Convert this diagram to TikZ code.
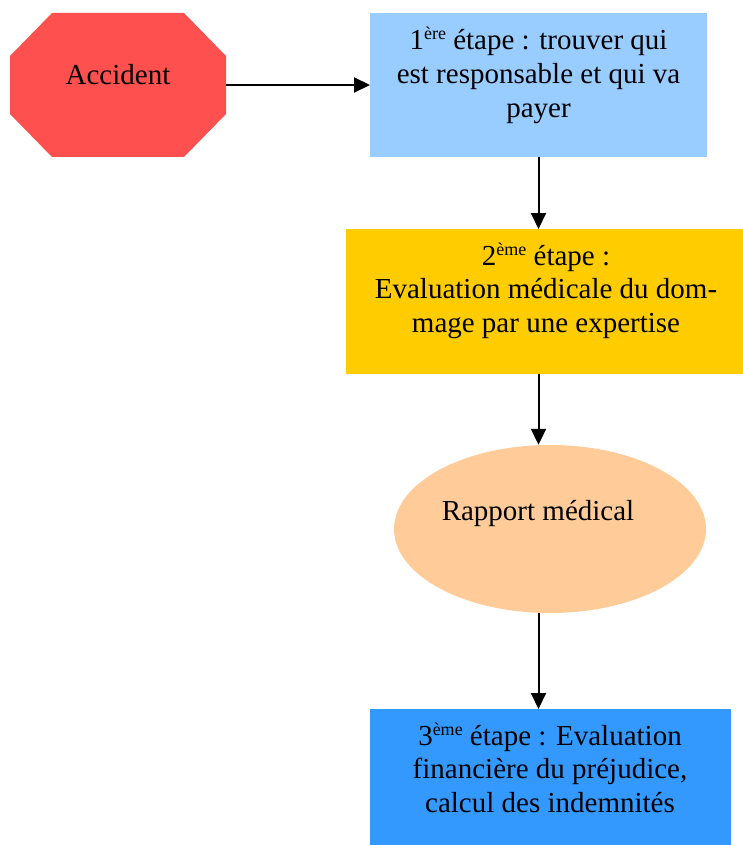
\documentclass[tikz,border=0pt]{standalone}
\usepackage{fontspec}
\setmainfont{Liberation Serif}
\usetikzlibrary{arrows.meta,shapes.geometric,calc}
\definecolor{accred}{RGB}{255,80,80}
\definecolor{stepone}{RGB}{153,204,255}
\definecolor{steptwo}{RGB}{255,204,0}
\definecolor{rapcol}{RGB}{255,204,153}
\definecolor{stepthree}{RGB}{51,153,255}
\newcommand\expo[1]{\raisebox{10pt}{\fontsize{18}{18}\selectfont #1}}
\newcommand\lines[1]{\setlength{\tabcolsep}{0pt}\begin{tabular}[t]{c}#1\end{tabular}}
\tikzset{
  shapebox/.style={rectangle, inner sep=0pt, outer sep=0pt},
  label text/.style={anchor=base, inner sep=0pt, font=\fontsize{29}{33.8}\selectfont},
  conn/.style={line width=2pt, -{Triangle[length=16pt,width=15pt]}},
}
\begin{document}
\begin{tikzpicture}[x=1pt,y=-1pt]
\useasboundingbox (0,0) rectangle (743,845);
% shapes
\node[shapebox, minimum width=216pt, minimum height=144pt] (acc) at (118,85) {};
\fill[accred] ($(acc.north west)+(42,0)$) -- ($(acc.north east)+(-42,0)$)
  -- ($(acc.north east)+(0,43)$) -- ($(acc.south east)+(0,-43)$)
  -- ($(acc.south east)+(-42,0)$) -- ($(acc.south west)+(42,0)$)
  -- ($(acc.south west)+(0,-43)$) -- ($(acc.north west)+(0,43)$) -- cycle;
\node[shapebox, fill=stepone, minimum width=337pt, minimum height=144pt] (s1) at (538.5,85) {};
\node[shapebox, fill=steptwo, minimum width=397pt, minimum height=145pt] (s2) at (544.5,301.5) {};
\node[ellipse, fill=rapcol, inner sep=0pt, minimum width=312pt, minimum height=168pt] (rap) at (550,529) {};
\node[shapebox, fill=stepthree, minimum width=361pt, minimum height=140pt] (s3) at (550.5,779) {};
% texts
\node[label text] (tacc) at (118,85) {Accident};
\node[label text] (ts1) at (538.5,50) {\lines{1\expo{ère} étape : trouver qui\\est responsable et qui va\\payer}};
\node[label text] (ts2) at (546,265) {\lines{2\expo{ème} étape :\\Evaluation médicale du dom-\\mage par une expertise}};
\node[label text] (trap) at (538,520) {Rapport médical};
\node[label text] (ts3) at (550,745) {\lines{3\expo{ème} étape : Evaluation\\financière du préjudice,\\calcul des indemnités}};
% connectors
\draw[conn] (acc.east) -- (s1.west);
\draw[conn] (s1.south) -- (s1.south |- s2.north);
\draw[conn] (s2.south -| s1.south) -- (rap.north -| s1.south);
\draw[conn] (rap.south -| s1.south) -- (s3.north -| s1.south);
\end{tikzpicture}
\end{document}
